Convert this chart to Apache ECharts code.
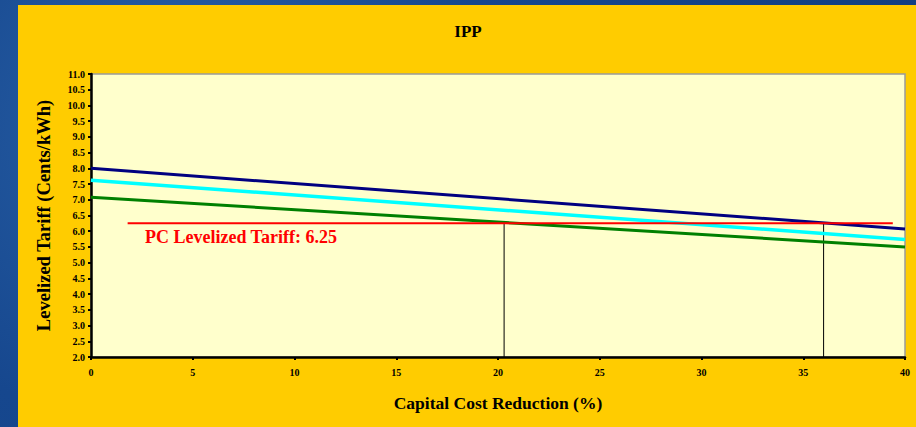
<!DOCTYPE html>
<html>
<head>
<meta charset="utf-8">
<script src="https://cdn.jsdelivr.net/npm/echarts@6/dist/echarts.min.js"></script>
<style>
  html, body { margin: 0; padding: 0; }
  body {
    width: 916px; height: 427px; overflow: hidden; position: relative;
    background: radial-gradient(circle at 20% 30%, #2a62a8 0, #16478e 40%, #123f80 100%);
  }
  #panel {
    position: absolute; left: 18px; top: 5px; width: 898px; height: 422px;
    background: #FFCC00;
  }
</style>
</head>
<body>
<div id="panel"></div>
<script>
// capital cost reduction (%) at the line ends
const xEnds = [0, 40]
// levelized tariff (cents/kWh) per line
const navyLine = [8.0, 6.07]
const cyanLine = [7.62, 5.74]
const greenLine = [7.08, 5.5]
// PC reference tariff and where it is crossed
const pcTariff = 6.25
const pcSpan = [1.8, 39.4]
const crossings = [20.3, 36.0]
const yMin = 2
const yMax = 11

const serif = 'Liberation Serif'

const chart = echarts.init(document.getElementById('panel'), null, { renderer: 'svg' })

function pair(xs, ys) {
  return xs.map((x, i) => [x, ys[i]])
}

function plainLine(name, data, color, width) {
  return {
    name,
    type: 'line',
    data,
    showSymbol: false,
    silent: true,
    lineStyle: { color, width },
    z: 3
  }
}

const bold = { fontFamily: serif, fontWeight: 700, color: '#000' }

const option = {
  animation: false,
  backgroundColor: 'transparent',
  title: {
    text: 'IPP',
    left: 445,
    top: 13,
    textAlign: 'center',
    textStyle: { ...bold, fontSize: 17 }
  },
  grid: {
    left: 73, top: 69, width: 814, height: 283,
    show: true,
    backgroundColor: '#FFFFCC',
    borderColor: '#9a9a9a',
    borderWidth: 1.5
  },
  xAxis: {
    type: 'value',
    min: 0, max: 40, interval: 5,
    name: 'Capital Cost Reduction (%)',
    nameLocation: 'middle',
    nameGap: 37,
    nameTextStyle: { ...bold, fontSize: 17.5 },
    axisLine: { show: true, lineStyle: { color: '#000', width: 2.5 } },
    axisTick: { show: true, inside: false, length: 3, lineStyle: { color: '#000', width: 2 } },
    axisLabel: { ...bold, fontSize: 10, margin: 10 },
    splitLine: { show: false }
  },
  yAxis: {
    type: 'value',
    min: yMin, max: yMax, interval: 0.5,
    name: 'Levelized Tariff (Cents/kWh)',
    nameLocation: 'middle',
    nameGap: 38,
    nameTextStyle: { ...bold, fontSize: 18.5 },
    axisLine: { show: true, lineStyle: { color: '#000', width: 2.5 } },
    axisTick: { show: true, inside: false, length: 3, lineStyle: { color: '#000', width: 2 } },
    axisLabel: {
      ...bold, fontSize: 10, margin: 6,
      formatter: (v) => v.toFixed(1)
    },
    splitLine: { show: false }
  },
  series: [
    plainLine('Navy', pair(xEnds, navyLine), '#000080', 3),
    plainLine('Cyan', pair(xEnds, cyanLine), '#00FFFF', 3.5),
    plainLine('Green', pair(xEnds, greenLine), '#008000', 3),
    {
      name: 'PC tariff',
      type: 'line',
      data: pcSpan.map((x) => [x, pcTariff]),
      showSymbol: false,
      silent: true,
      lineStyle: { color: '#FF0000', width: 2 },
      z: 4,
      markPoint: {
        symbol: 'circle',
        symbolSize: 0,
        silent: true,
        data: [{ coord: [2.65, 5.82], value: pcTariff }],
        label: {
          show: true,
          position: 'right',
          distance: 0,
          formatter: 'PC Levelized Tariff: ' + pcTariff.toFixed(2),
          fontFamily: serif, fontWeight: 700, fontSize: 18, color: '#FF0000'
        }
      }
    },
    ...crossings.map((x, i) => ({
      name: 'Crossing ' + (i + 1),
      type: 'line',
      data: [[x, yMin], [x, pcTariff]],
      showSymbol: false,
      silent: true,
      lineStyle: { color: '#000', width: 1 },
      z: 2
    }))
  ]
}

chart.setOption(option)
</script>
</body>
</html>
